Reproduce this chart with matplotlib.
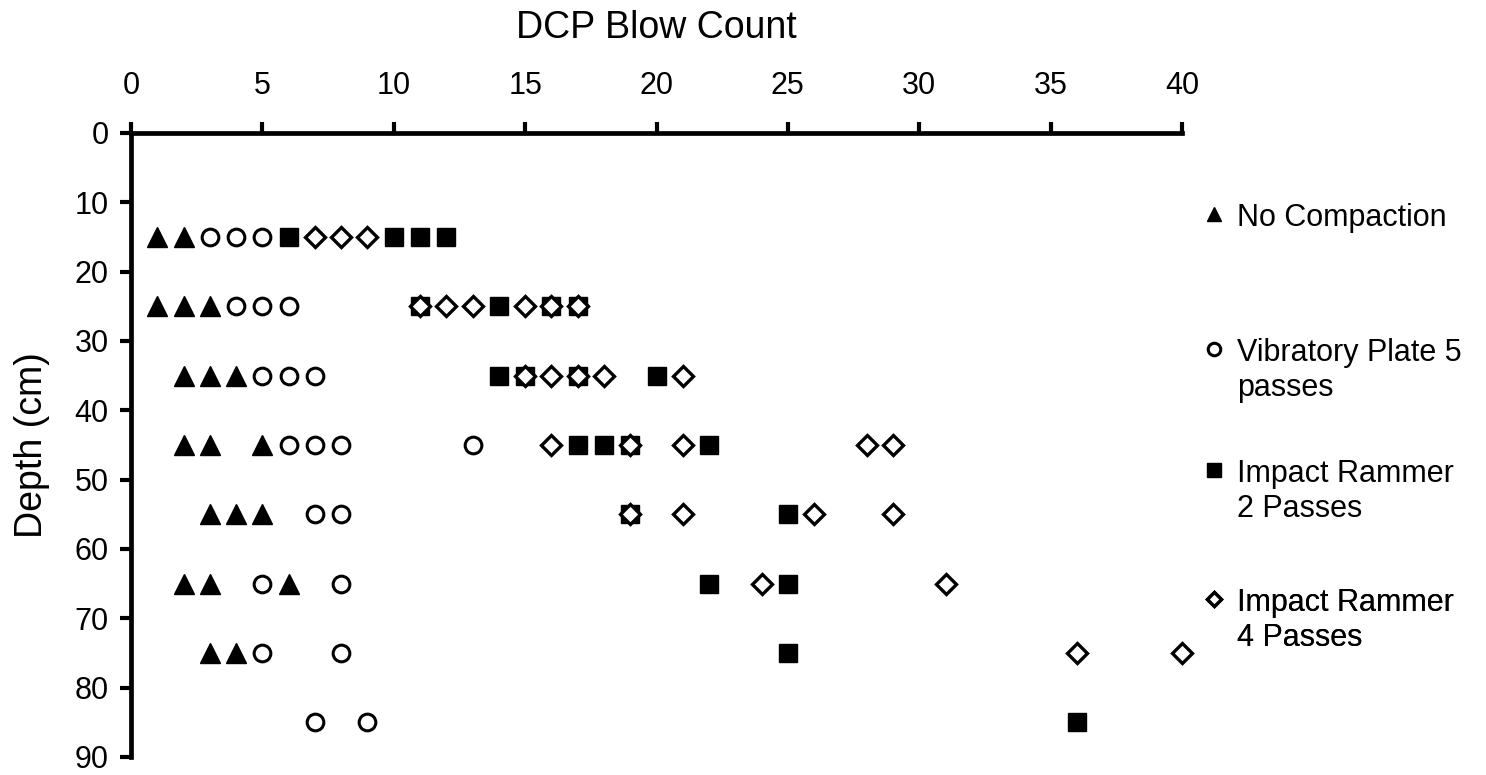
#!/usr/bin/env python3
"""DCP blow count vs depth for four compaction treatments."""

import matplotlib
matplotlib.use("Agg")
import matplotlib.pyplot as plt

plt.rcParams.update({
    "font.family": ["Liberation Sans", "DejaVu Sans"],
    "font.size": 22,
})

# depth (cm) and blow counts per treatment, one entry per plotted point
no_comp_depth = [15, 15, 25, 25, 25, 35, 35, 35, 45, 45, 45, 55, 55, 55, 65, 65, 65, 75, 75]
no_comp_blows = [1, 2, 1, 2, 3, 2, 3, 4, 2, 3, 5, 3, 4, 5, 2, 3, 6, 3, 4]

vib5_depth = [15, 15, 15, 25, 25, 25, 35, 35, 35, 45, 45, 45, 45, 55, 55, 65, 65, 75, 75, 85, 85]
vib5_blows = [3, 4, 5, 4, 5, 6, 5, 6, 7, 6, 7, 8, 13, 7, 8, 5, 8, 5, 8, 7, 9]

ram2_depth = [15, 15, 15, 15, 25, 25, 25, 25, 35, 35, 35, 35, 45, 45, 45, 45, 55, 55, 65, 65, 75, 85]
ram2_blows = [6, 10, 11, 12, 11, 14, 16, 17, 14, 15, 17, 20, 17, 18, 19, 22, 19, 25, 22, 25, 25, 36]

ram4_depth = [15, 15, 15, 25, 25, 25, 25, 25, 25, 35, 35, 35, 35, 35,
              45, 45, 45, 45, 45, 55, 55, 55, 55, 65, 65, 75, 75]
ram4_blows = [7, 8, 9, 11, 12, 13, 15, 16, 17, 15, 16, 17, 18, 21,
              16, 19, 21, 28, 29, 19, 21, 26, 29, 24, 31, 36, 40]

labels = [
    "No Compaction",
    "Vibratory Plate 5\npasses",
    "Impact Rammer\n2 Passes",
    "Impact Rammer\n4 Passes",
]


def main():
    fig = plt.figure(figsize=(14.86, 7.75), dpi=100)
    ax = fig.add_axes([131 / 1486, 18 / 775, 1051 / 1486, 624 / 775])

    ax.plot(no_comp_blows, no_comp_depth, linestyle="none", marker="^",
            ms=14, color="black", label=labels[0], clip_on=False)
    ax.plot(vib5_blows, vib5_depth, linestyle="none", marker="o",
            ms=12, mfc="white", mec="black", mew=2.2, label=labels[1],
            clip_on=False)
    ax.plot(ram2_blows, ram2_depth, linestyle="none", marker="s",
            ms=13, color="black", label=labels[2], clip_on=False)
    ax.plot(ram4_blows, ram4_depth, linestyle="none", marker="D",
            ms=10, mfc="white", mec="black", mew=2.4, label=labels[3],
            clip_on=False)

    ax.set_xlim(0, 40)
    ax.set_ylim(90, 0)
    ax.set_xticks(range(0, 41, 5))
    ax.set_yticks(range(0, 91, 10))
    ax.xaxis.tick_top()
    ax.xaxis.set_label_position("top")
    ax.set_xlabel("DCP Blow Count", fontsize=27, labelpad=24)
    ax.set_ylabel("Depth (cm)", fontsize=27, labelpad=18)

    for side in ("right", "bottom"):
        ax.spines[side].set_visible(False)
    for side in ("left", "top"):
        ax.spines[side].set_linewidth(3.4)
    ax.tick_params(axis="both", direction="out", length=8, width=3,
                   labelsize=22)
    ax.tick_params(axis="x", pad=15)
    ax.tick_params(axis="y", pad=8)

    # one legend per entry so the uneven vertical spacing can be matched
    handles, names = ax.get_legend_handles_labels()
    tops = [203, 338, 459, 588]
    for handle, name, top in zip(handles, names, tops):
        leg = ax.legend([handle], [name], loc="upper left",
                        bbox_to_anchor=(1205 / 1486, 1 - top / 775),
                        bbox_transform=fig.transFigure, frameon=False,
                        fontsize=22, markerscale=0.75, handlelength=0.6,
                        handletextpad=0.45, borderpad=0, borderaxespad=0)
        for col in leg._legend_handle_box.get_children():
            for item in col.get_children():
                item.align = "top"
        ax.add_artist(leg)

    fig.savefig("out.png", dpi=100)


if __name__ == "__main__":
    main()
